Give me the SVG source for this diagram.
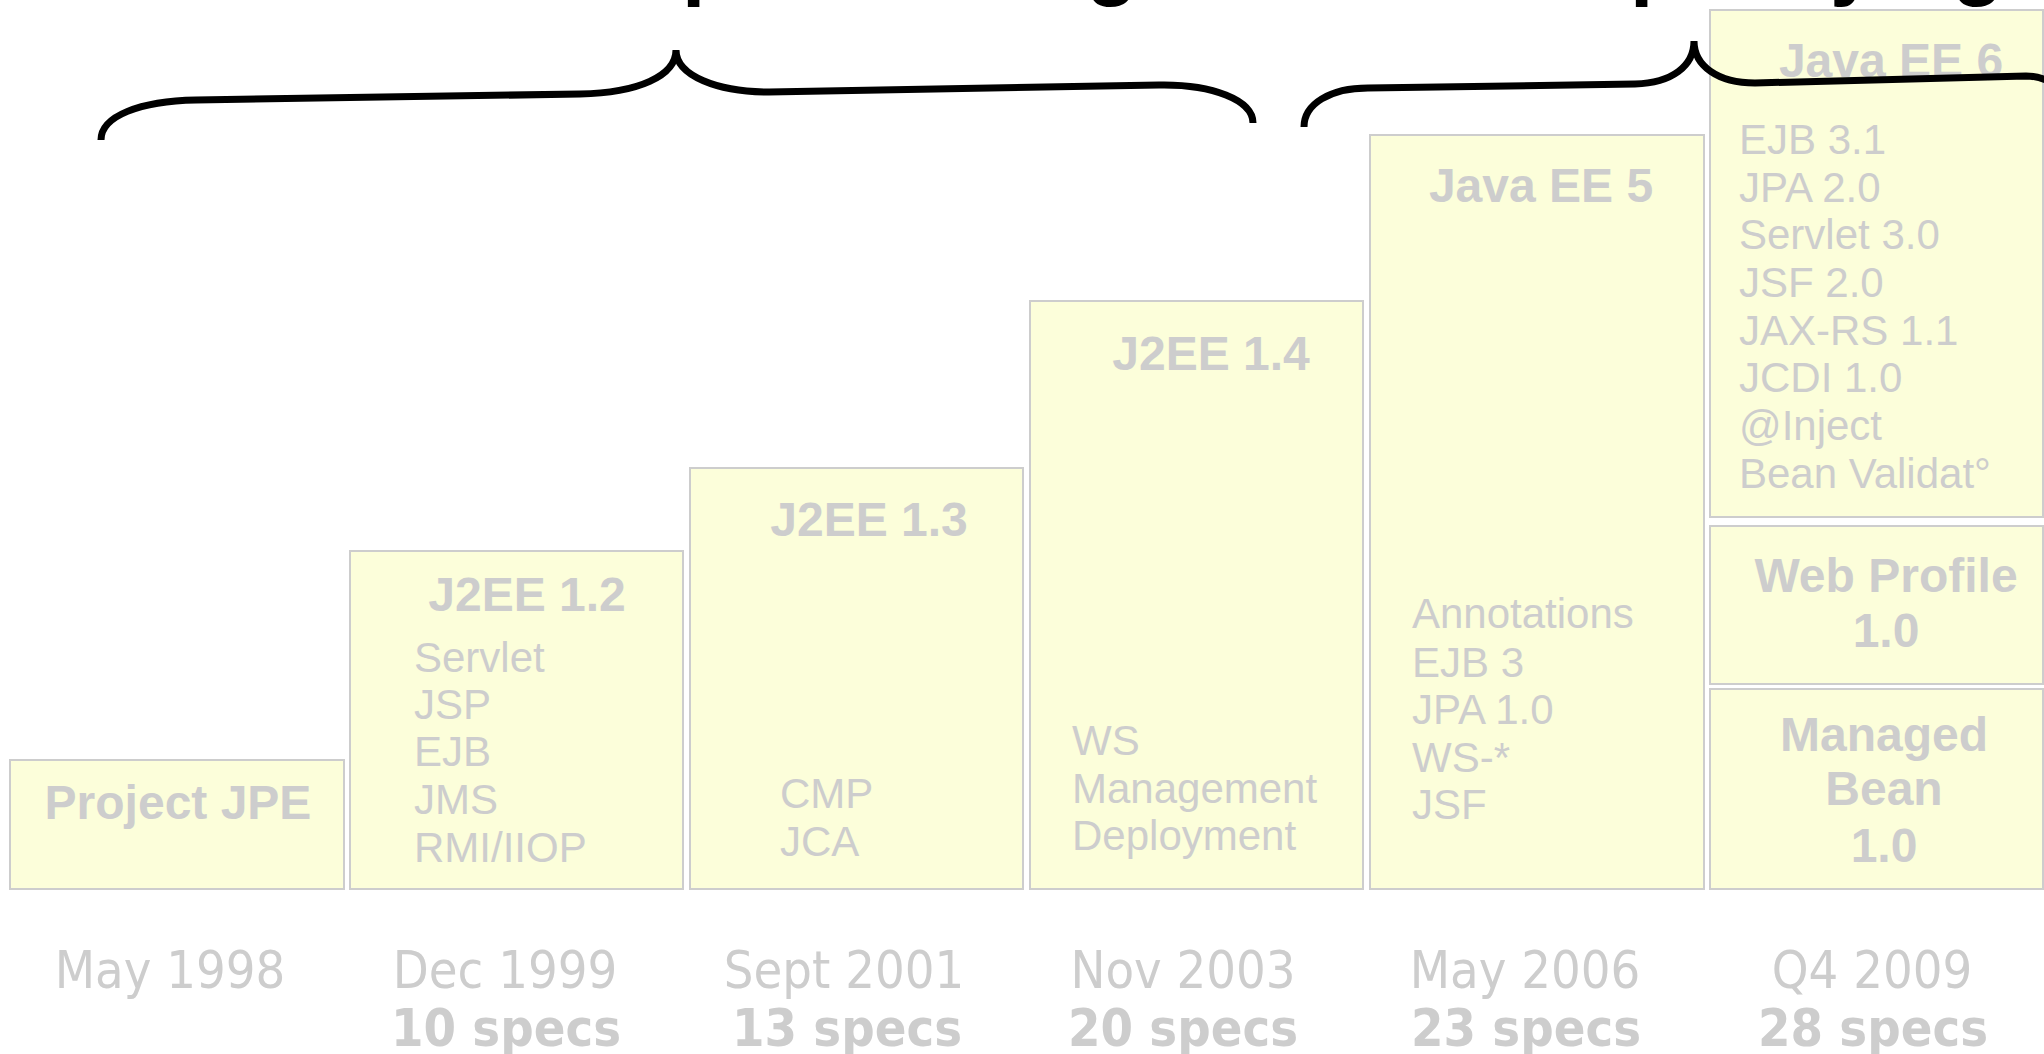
<svg xmlns="http://www.w3.org/2000/svg" width="2044" height="1054" viewBox="0 0 2044 1054">
<style>
.box{fill:#FCFEDA;stroke:#CDCDCD;stroke-width:2}
.t{font-family:"Liberation Sans",Arial,sans-serif;font-weight:bold;font-size:48px;fill:#CDCDCD;text-anchor:middle}
.i{font-family:"Liberation Sans",Arial,sans-serif;font-size:42px;fill:#CDCDCD}
.d{font-family:"DejaVu Sans Condensed","DejaVu Sans",sans-serif;font-stretch:condensed;font-size:52px;fill:#CDCDCD;text-anchor:middle}
.s{font-family:"DejaVu Sans Condensed","DejaVu Sans",sans-serif;font-stretch:condensed;font-weight:bold;font-size:52px;fill:#CDCDCD;text-anchor:middle}
.brace{fill:none;stroke:#000;stroke-width:7}
.title{font-family:"Liberation Sans",Arial,sans-serif;font-weight:bold;font-size:84px;fill:#000}
</style>
<rect width="2044" height="1054" fill="#fff"/>
<g id="project-jpe">
<rect class="box" x="10" y="760" width="334" height="129"/>
<text class="t" x="178" y="819">Project JPE</text>
</g>
<g id="j2ee-1-2">
<rect class="box" x="350" y="551" width="333" height="338"/>
<text class="t" x="527" y="611">J2EE 1.2</text>
<text class="i" x="414" y="672">Servlet</text>
<text class="i" x="414" y="719">JSP</text>
<text class="i" x="414" y="766">EJB</text>
<text class="i" x="414" y="814">JMS</text>
<text class="i" x="414" y="862">RMI/IIOP</text>
</g>
<g id="j2ee-1-3">
<rect class="box" x="690" y="468" width="333" height="421"/>
<text class="t" x="869" y="536">J2EE 1.3</text>
<text class="i" x="780" y="808">CMP</text>
<text class="i" x="780" y="856">JCA</text>
</g>
<g id="j2ee-1-4">
<rect class="box" x="1030" y="301" width="333" height="588"/>
<text class="t" x="1211" y="370">J2EE 1.4</text>
<text class="i" x="1072" y="755">WS</text>
<text class="i" x="1072" y="803">Management</text>
<text class="i" x="1072" y="850">Deployment</text>
</g>
<g id="javaee-5">
<rect class="box" x="1370" y="135" width="334" height="754"/>
<text class="t" x="1541" y="202">Java EE 5</text>
<text class="i" x="1412" y="628">Annotations</text>
<text class="i" x="1412" y="677">EJB 3</text>
<text class="i" x="1412" y="724">JPA 1.0</text>
<text class="i" x="1412" y="772">WS-*</text>
<text class="i" x="1412" y="819">JSF</text>
</g>
<g id="javaee-6">
<rect class="box" x="1710" y="10" width="333" height="507"/>
<text class="t" x="1891" y="77">Java EE 6</text>
<text class="i" x="1739" y="154">EJB 3.1</text>
<text class="i" x="1739" y="202">JPA 2.0</text>
<text class="i" x="1739" y="249">Servlet 3.0</text>
<text class="i" x="1739" y="297">JSF 2.0</text>
<text class="i" x="1739" y="345">JAX-RS 1.1</text>
<text class="i" x="1739" y="392">JCDI 1.0</text>
<text class="i" x="1739" y="440">@Inject</text>
<text class="i" x="1739" y="488">Bean Validat°</text>
</g>
<g id="web-profile">
<rect class="box" x="1710" y="526" width="333" height="158"/>
<text class="t" x="1886" y="592">Web Profile</text>
<text class="t" x="1886" y="647">1.0</text>
</g>
<g id="managed-bean">
<rect class="box" x="1710" y="689" width="333" height="200"/>
<text class="t" x="1884" y="751">Managed</text>
<text class="t" x="1884" y="805">Bean</text>
<text class="t" x="1884" y="862">1.0</text>
</g>
<g id="timeline">
<text class="d" x="170" y="988">May 1998</text>
<text class="d" x="505" y="988">Dec 1999</text>
<text class="d" x="844" y="988">Sept 2001</text>
<text class="d" x="1183" y="988">Nov 2003</text>
<text class="d" x="1525" y="988">May 2006</text>
<text class="d" x="1872" y="988">Q4 2009</text>
<text class="s" x="506" y="1046">10 specs</text>
<text class="s" x="847" y="1046">13 specs</text>
<text class="s" x="1183" y="1046">20 specs</text>
<text class="s" x="1526" y="1046">23 specs</text>
<text class="s" x="1873" y="1046">28 specs</text>
</g>
<g id="connectors">
<path class="brace" d="M101,140 C101,116 140,101 196,100 L580,94 C638,93 676,76 676,50 C676,76 718,92 769,92 L1159,85 C1212,84 1253,100 1253,123"/>
<path class="brace" d="M1304,127 C1304,104 1330,88 1368,88 L1635,84 C1672,83 1694,66 1694,41 C1694,66 1718,83 1755,83 L2026,76 C2050,76 2075,95 2075,120"/>
</g>
<g id="title">
<text class="title" y="-10"><tspan x="682">p</tspan><tspan x="1086">g</tspan><tspan x="1630">p</tspan><tspan x="1830">y</tspan><tspan x="1952">g</tspan></text>
</g>
</svg>
